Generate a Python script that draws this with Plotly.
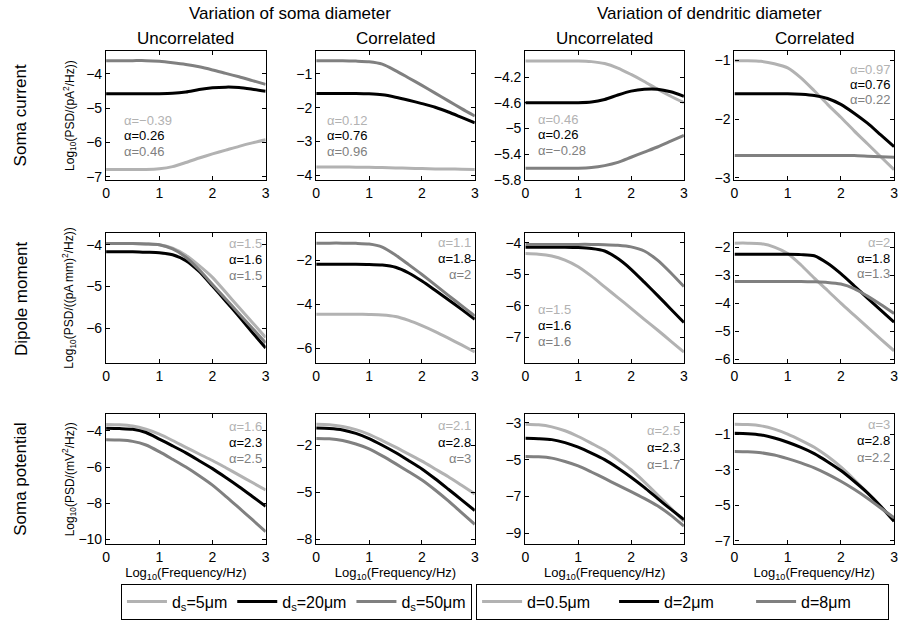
import plotly.graph_objects as go

W, H = 903, 639

# log10 frequency grid shared by every panel
freq = [0, 0.25, 0.5, 0.75, 1, 1.25, 1.5, 1.75, 2, 2.25, 2.5, 2.75, 3]

# ---- Soma current ----
cur_soma_unc_5 = [-6.78, -6.78, -6.78, -6.78, -6.76, -6.70, -6.58, -6.45, -6.33, -6.22, -6.11, -6.01, -5.92]
cur_soma_unc_20 = [-4.58, -4.58, -4.58, -4.58, -4.58, -4.57, -4.53, -4.46, -4.41, -4.39, -4.40, -4.45, -4.51]
cur_soma_unc_50 = [-3.62, -3.62, -3.62, -3.62, -3.64, -3.68, -3.73, -3.80, -3.89, -3.99, -4.09, -4.20, -4.31]

cur_soma_cor_5 = [-3.76, -3.76, -3.76, -3.77, -3.77, -3.78, -3.79, -3.80, -3.81, -3.82, -3.82, -3.83, -3.84]
cur_soma_cor_20 = [-1.58, -1.58, -1.58, -1.58, -1.59, -1.62, -1.69, -1.78, -1.88, -1.99, -2.13, -2.29, -2.45]
cur_soma_cor_50 = [-0.61, -0.61, -0.61, -0.62, -0.64, -0.71, -0.90, -1.12, -1.34, -1.57, -1.80, -2.03, -2.25]

cur_dend_unc_05 = [-3.95, -3.95, -3.95, -3.95, -3.95, -3.96, -3.99, -4.06, -4.16, -4.27, -4.39, -4.50, -4.60]
cur_dend_unc_2 = [-4.60, -4.60, -4.60, -4.60, -4.60, -4.59, -4.55, -4.48, -4.42, -4.39, -4.39, -4.43, -4.50]
cur_dend_unc_8 = [-5.62, -5.62, -5.62, -5.62, -5.62, -5.61, -5.58, -5.53, -5.45, -5.37, -5.29, -5.20, -5.11]

cur_dend_cor_05 = [-1.01, -1.01, -1.02, -1.06, -1.13, -1.30, -1.52, -1.75, -1.97, -2.20, -2.42, -2.64, -2.86]
cur_dend_cor_2 = [-1.57, -1.57, -1.57, -1.57, -1.57, -1.58, -1.60, -1.65, -1.75, -1.90, -2.07, -2.27, -2.47]
cur_dend_cor_8 = [-2.62, -2.62, -2.62, -2.62, -2.62, -2.62, -2.62, -2.62, -2.62, -2.62, -2.63, -2.64, -2.65]

# ---- Dipole moment ----
dip_soma_unc_5 = [-3.97, -3.97, -3.97, -3.98, -4.00, -4.08, -4.25, -4.50, -4.78, -5.14, -5.50, -5.86, -6.22]
dip_soma_unc_20 = [-4.17, -4.17, -4.17, -4.18, -4.19, -4.24, -4.38, -4.64, -4.99, -5.35, -5.72, -6.10, -6.47]
dip_soma_unc_50 = [-3.97, -3.97, -3.97, -3.98, -4.00, -4.10, -4.30, -4.60, -4.95, -5.30, -5.65, -6.00, -6.35]

dip_soma_cor_5 = [-4.46, -4.46, -4.46, -4.46, -4.47, -4.49, -4.56, -4.74, -4.98, -5.25, -5.55, -5.86, -6.18]
dip_soma_cor_20 = [-2.18, -2.18, -2.18, -2.18, -2.19, -2.22, -2.32, -2.58, -2.95, -3.37, -3.80, -4.24, -4.69]
dip_soma_cor_50 = [-1.22, -1.22, -1.22, -1.23, -1.26, -1.40, -1.76, -2.20, -2.65, -3.12, -3.60, -4.07, -4.54]

dip_dend_unc_05 = [-4.34, -4.36, -4.42, -4.55, -4.76, -5.06, -5.40, -5.74, -6.08, -6.43, -6.77, -7.12, -7.47]
dip_dend_unc_2 = [-4.14, -4.14, -4.14, -4.14, -4.15, -4.18, -4.26, -4.50, -4.84, -5.25, -5.67, -6.10, -6.53]
dip_dend_unc_8 = [-4.05, -4.05, -4.05, -4.05, -4.05, -4.05, -4.06, -4.08, -4.13, -4.26, -4.55, -4.95, -5.39]

dip_dend_cor_05 = [-1.86, -1.86, -1.88, -2.00, -2.23, -2.64, -3.11, -3.55, -4.00, -4.43, -4.86, -5.28, -5.70]
dip_dend_cor_2 = [-2.26, -2.26, -2.26, -2.26, -2.26, -2.27, -2.31, -2.58, -2.95, -3.38, -3.82, -4.25, -4.68]
dip_dend_cor_8 = [-3.23, -3.23, -3.23, -3.23, -3.23, -3.23, -3.24, -3.26, -3.32, -3.48, -3.75, -4.05, -4.37]

# ---- Soma potential ----
pot_soma_unc_5 = [-3.64, -3.66, -3.73, -3.91, -4.18, -4.53, -4.91, -5.28, -5.64, -6.04, -6.45, -6.86, -7.27]
pot_soma_unc_20 = [-3.85, -3.87, -3.91, -4.09, -4.45, -4.83, -5.22, -5.65, -6.09, -6.58, -7.09, -7.63, -8.18]
pot_soma_unc_50 = [-4.49, -4.51, -4.58, -4.78, -5.15, -5.57, -6.00, -6.48, -7.00, -7.62, -8.27, -8.92, -9.58]

pot_soma_cor_5 = [-0.63, -0.66, -0.78, -0.98, -1.28, -1.68, -2.10, -2.55, -3.00, -3.50, -4.00, -4.55, -5.10]
pot_soma_cor_20 = [-0.88, -0.91, -1.00, -1.22, -1.55, -1.98, -2.45, -2.97, -3.50, -4.13, -4.80, -5.48, -6.17]
pot_soma_cor_50 = [-1.54, -1.57, -1.68, -1.90, -2.21, -2.66, -3.16, -3.68, -4.21, -4.85, -5.55, -6.30, -7.05]

pot_dend_unc_05 = [-3.09, -3.12, -3.23, -3.44, -3.75, -4.12, -4.50, -5.00, -5.55, -6.20, -6.90, -7.62, -8.35]
pot_dend_unc_2 = [-3.85, -3.87, -3.92, -4.08, -4.33, -4.65, -5.00, -5.45, -5.95, -6.50, -7.10, -7.68, -8.25]
pot_dend_unc_8 = [-4.83, -4.85, -4.92, -5.10, -5.34, -5.67, -6.02, -6.38, -6.73, -7.10, -7.50, -8.00, -8.60]

pot_dend_cor_05 = [-0.45, -0.47, -0.54, -0.72, -1.00, -1.35, -1.74, -2.25, -2.85, -3.55, -4.30, -5.10, -5.90]
pot_dend_cor_2 = [-0.96, -0.98, -1.05, -1.22, -1.46, -1.75, -2.10, -2.55, -3.05, -3.65, -4.30, -5.05, -5.90]
pot_dend_cor_8 = [-1.98, -2.00, -2.05, -2.18, -2.38, -2.62, -2.90, -3.25, -3.65, -4.10, -4.60, -5.15, -5.70]

# exponent labels, listed per panel in series order
alpha_labels = [
    ["α=−0.39", "α=0.26", "α=0.46"], ["α=0.12", "α=0.76", "α=0.96"],
    ["α=0.46", "α=0.26", "α=−0.28"], ["α=0.97", "α=0.76", "α=0.22"],
    ["α=1.5", "α=1.6", "α=1.5"], ["α=1.1", "α=1.8", "α=2"],
    ["α=1.5", "α=1.6", "α=1.6"], ["α=2", "α=1.8", "α=1.3"],
    ["α=1.6", "α=2.3", "α=2.5"], ["α=2.1", "α=2.8", "α=3"],
    ["α=2.5", "α=2.3", "α=1.7"], ["α=3", "α=2.8", "α=2.2"],
]

soma_names = ["d<sub>s</sub>=5μm", "d<sub>s</sub>=20μm", "d<sub>s</sub>=50μm"]
dend_names = ["d=0.5μm", "d=2μm", "d=8μm"]
row_labels = ["Soma current", "Dipole moment", "Soma potential"]
y_titles = ["Log<sub>10</sub>(PSD/(pA<sup>2</sup>/Hz))",
            "Log<sub>10</sub>(PSD/((pA mm)<sup>2</sup>/Hz))",
            "Log<sub>10</sub>(PSD/(mV<sup>2</sup>/Hz))"]
x_title = "Log<sub>10</sub>(Frequency/Hz)"
col_titles = ["Uncorrelated", "Correlated", "Uncorrelated", "Correlated"]
group_titles = ["Variation of soma diameter", "Variation of dendritic diameter"]

panels = [
    [cur_soma_unc_5, cur_soma_unc_20, cur_soma_unc_50],
    [cur_soma_cor_5, cur_soma_cor_20, cur_soma_cor_50],
    [cur_dend_unc_05, cur_dend_unc_2, cur_dend_unc_8],
    [cur_dend_cor_05, cur_dend_cor_2, cur_dend_cor_8],
    [dip_soma_unc_5, dip_soma_unc_20, dip_soma_unc_50],
    [dip_soma_cor_5, dip_soma_cor_20, dip_soma_cor_50],
    [dip_dend_unc_05, dip_dend_unc_2, dip_dend_unc_8],
    [dip_dend_cor_05, dip_dend_cor_2, dip_dend_cor_8],
    [pot_soma_unc_5, pot_soma_unc_20, pot_soma_unc_50],
    [pot_soma_cor_5, pot_soma_cor_20, pot_soma_cor_50],
    [pot_dend_unc_05, pot_dend_unc_2, pot_dend_unc_8],
    [pot_dend_cor_05, pot_dend_cor_2, pot_dend_cor_8],
]

# axis ranges and ticks per panel
y_ranges = [
    [-7.08, -3.35], [-4.14, -0.33], [-5.80, -3.80], [-3.03, -0.85],
    [-6.84, -3.72], [-6.70, -0.76], [-7.83, -3.69], [-6.15, -1.50],
    [-10.27, -3.05], [-8.32, 0.04], [-9.57, -2.52], [-7.18, 0.14],
]
y_ticks = [
    [-7, -6, -5, -4], [-4, -3, -2, -1], [-5.8, -5.4, -5, -4.6, -4.2], [-3, -2, -1],
    [-6, -5, -4], [-6, -4, -2], [-7, -6, -5, -4], [-6, -5, -4, -3, -2],
    [-10, -8, -6, -4], [-8, -5, -2], [-9, -7, -5, -3], [-7, -5, -3, -1],
]
# label anchor: (x position, first label y, line step, side)
label_pos = [
    (0.30, -5.35, -0.455, "left"), (0.16, -2.37, -0.465, "left"),
    (0.20, -4.86, -0.24, "left"), (2.97, -1.15, -0.26, "right"),
    (2.97, -3.98, -0.38, "right"), (2.97, -1.21, -0.72, "right"),
    (0.20, -6.11, -0.52, "left"), (2.97, -1.84, -0.56, "right"),
    (2.97, -3.73, -0.91, "right"), (2.97, -0.74, -1.05, "right"),
    (2.97, -3.44, -0.90, "right"), (2.97, -0.45, -0.92, "right"),
]

colors = ["#b2b2b2", "#000000", "#808080"]
FONT = "Liberation Sans, Arial, Helvetica, sans-serif"

col_px = [(103, 264), (315, 475), (526, 686), (737, 898)]
row_px = [(52, 182), (236, 368), (419, 551)]


def px_x(p):
    return p / W


def px_y(p):
    return 1 - p / H


fig = go.Figure()
annotations = []

for k in range(12):
    r, c = divmod(k, 4)
    sfx = "" if k == 0 else str(k + 1)
    xa, ya = "x" + sfx, "y" + sfx
    for i in range(3):
        if k == 0:
            show, leg, name = True, "legend", soma_names[i]
        elif k == 2:
            show, leg, name = True, "legend2", dend_names[i]
        else:
            show, leg, name = False, "legend", ""
        fig.add_trace(go.Scatter(
            x=freq, y=panels[k][i], xaxis=xa, yaxis=ya, mode="lines",
            line=dict(color=colors[i], width=3, shape="spline", smoothing=0.7),
            name=name, showlegend=show, legend=leg, hoverinfo="skip"))

    x0, x1 = col_px[c]
    y0, y1 = row_px[r]
    axis_common = dict(showline=True, linecolor="black", linewidth=1.3, mirror="ticks",
                       ticks="inside", ticklen=4, tickcolor="black", showgrid=False,
                       zeroline=False, tickfont=dict(family=FONT, size=14, color="black"))
    fig.layout["xaxis" + sfx] = dict(
        domain=[px_x(x0), px_x(x1)], anchor=ya, range=[0, 3], tickvals=[0, 1, 2, 3],
        **axis_common)
    if r == 2:
        fig.layout["xaxis" + sfx].title = dict(text=x_title, standoff=2,
                                               font=dict(family=FONT, size=13, color="black"))
    fig.layout["yaxis" + sfx] = dict(
        domain=[px_y(y1), px_y(y0)], anchor=xa, range=y_ranges[k], tickvals=y_ticks[k],
        **axis_common)

    lx, ly, step, side = label_pos[k]
    for i, txt in enumerate(alpha_labels[k]):
        annotations.append(dict(
            x=lx, y=ly + i * step, xref=xa, yref=ya, text=txt, showarrow=False,
            xanchor=side, yanchor="middle",
            font=dict(family=FONT, size=13, color=colors[i])))

# column subtitles and group titles
for c, t in enumerate(col_titles):
    x0, x1 = col_px[c]
    annotations.append(dict(x=px_x((x0 + x1) / 2), y=px_y(39), xref="paper", yref="paper",
                            text=t, showarrow=False, xanchor="center", yanchor="middle",
                            font=dict(family=FONT, size=17, color="black")))
for g, t in enumerate(group_titles):
    x0 = col_px[2 * g][0]
    x1 = col_px[2 * g + 1][1]
    annotations.append(dict(x=px_x((x0 + x1) / 2), y=px_y(14), xref="paper", yref="paper",
                            text=t, showarrow=False, xanchor="center", yanchor="middle",
                            font=dict(family=FONT, size=17, color="black")))

# row labels and y-axis titles
for r in range(3):
    y0, y1 = row_px[r]
    annotations.append(dict(x=px_x(17), y=px_y((y0 + y1) / 2), xref="paper", yref="paper",
                            text=row_labels[r], showarrow=False, textangle=-90,
                            xanchor="center", yanchor="middle",
                            font=dict(family=FONT, size=17, color="black")))
    annotations.append(dict(x=px_x(66), y=px_y((y0 + y1) / 2), xref="paper", yref="paper",
                            text=y_titles[r], showarrow=False, textangle=-90,
                            xanchor="center", yanchor="middle",
                            font=dict(family=FONT, size=12, color="black")))

legend_common = dict(orientation="h", yanchor="top",
                     bordercolor="black", borderwidth=1, bgcolor="white",
                     font=dict(family=FONT, size=16, color="black"),
                     itemwidth=40, tracegroupgap=0)

fig.update_layout(
    width=W, height=H, margin=dict(l=0, r=0, t=0, b=0),
    paper_bgcolor="white", plot_bgcolor="white",
    annotations=annotations,
    legend=dict(x=px_x(118), y=px_y(591), xanchor="left", **legend_common),
    legend2=dict(x=px_x(893), y=px_y(591), xanchor="right",
                 entrywidth=82, entrywidthmode="pixels", **legend_common),
)

fig.write_html("out.html")
